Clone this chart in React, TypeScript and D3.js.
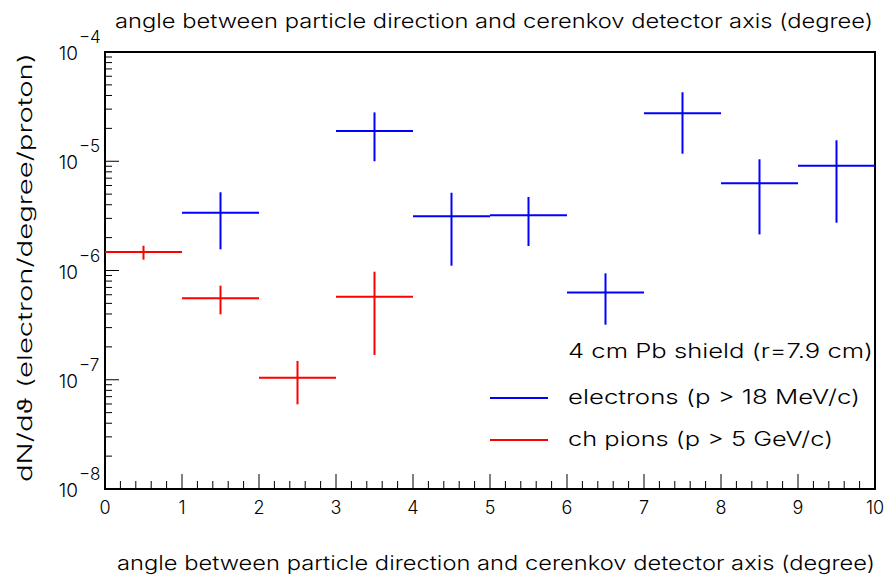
import React from "react";
import * as d3 from "d3";

const W = 890;
const H = 579;

const titleText = "angle between particle direction and cerenkov detector axis (degree)";
const yLabelText = "dN/dϑ (electron/degree/proton)";
const legendHeader = "4 cm Pb shield (r=7.9 cm)";
const seriesNames = ["electrons (p > 18 MeV/c)", "ch pions (p > 5 GeV/c)"];
const seriesColors = ["#0000ff", "#ff0000"];

const xTicks = [0, 1, 2, 3, 4, 5, 6, 7, 8, 9, 10];
const yDecades = [-4, -5, -6, -7, -8];

// electrons
const elecCenters = [1.5, 3.5, 4.5, 5.5, 6.5, 7.5, 8.5, 9.5];
const elecValues = [3.38e-6, 1.89e-5, 3.13e-6, 3.2e-6, 6.3e-7, 2.75e-5, 6.28e-6, 9.1e-6];
const elecHigh = [5.2e-6, 2.8e-5, 5.15e-6, 4.71e-6, 9.42e-7, 4.28e-5, 1.042e-5, 1.556e-5];
const elecLow = [1.563e-6, 1.0e-5, 1.107e-6, 1.675e-6, 3.19e-7, 1.173e-5, 2.14e-6, 2.74e-6];

// charged pions
const pionCenters = [0.5, 1.5, 2.5, 3.5];
const pionValues = [1.476e-6, 5.56e-7, 1.044e-7, 5.75e-7];
const pionHigh = [1.686e-6, 7.26e-7, 1.486e-7, 9.75e-7];
const pionLow = [1.256e-6, 3.97e-7, 5.96e-8, 1.686e-7];

const binHalf = 0.5;

const FONT = "Inter, 'Open Sans', 'DejaVu Sans', sans-serif";
const FW = 300;

export default function App() {
  const left = 105, right = 875, top = 52, bottom = 489;
  const x = d3.scaleLinear().domain([0, 10]).range([left, right]);
  const y = d3.scaleLog().domain([1e-8, 1e-4]).range([bottom, top]);

  const minorX = d3.range(0, 10.001, 0.2).filter((v) => Math.abs(v - Math.round(v)) > 1e-6);
  const minorY: number[] = [];
  for (let e = -8; e < -4; e++) {
    for (let m = 2; m <= 9; m++) minorY.push(m * Math.pow(10, e));
  }

  const series = [
    { c: elecCenters, v: elecValues, hi: elecHigh, lo: elecLow, color: seriesColors[0] },
    { c: pionCenters, v: pionValues, hi: pionHigh, lo: pionLow, color: seriesColors[1] },
  ];

  return (
    <svg width={W} height={H} style={{ position: "absolute", left: 0, top: 0, background: "#fff" }}
      fontFamily={FONT} fontWeight={FW}>
      <rect x={0} y={0} width={W} height={H} fill="#fff" />
      {/* titles */}
      <text x={115} y={28} fontSize={20} textLength={758} lengthAdjust="spacingAndGlyphs" fill="#000">{titleText}</text>
      <text x={117} y={570} fontSize={20} textLength={758} lengthAdjust="spacingAndGlyphs" fill="#000">{titleText}</text>
      {/* y label */}
      <text transform={`translate(32,${482}) rotate(-90)`} fontSize={20} textLength={429} lengthAdjust="spacingAndGlyphs" fill="#000">{yLabelText}</text>

      {/* x ticks */}
      {xTicks.map((t) => (
        <g key={"xt" + t}>
          <line x1={x(t)} x2={x(t)} y1={bottom} y2={bottom - 15} stroke="#000" strokeWidth={1} />
          <text x={x(t)} y={514} fontSize={18} textAnchor="middle" fill="#000">{t}</text>
        </g>
      ))}
      {minorX.map((t, i) => (
        <line key={"xm" + i} x1={x(t)} x2={x(t)} y1={bottom} y2={bottom - 8} stroke="#000" strokeWidth={1} />
      ))}

      {/* y ticks */}
      {yDecades.map((e) => (
        <g key={"yt" + e}>
          <line x1={left} x2={left + 14} y1={y(Math.pow(10, e))} y2={y(Math.pow(10, e))} stroke="#000" strokeWidth={1} />
          <text x={78} y={y(Math.pow(10, e)) + 8} fontSize={19} textAnchor="end" fill="#000">10</text>
          <text x={79} y={y(Math.pow(10, e)) - 9} fontSize={17} fill="#000">{"−" + String(-e)}</text>
        </g>
      ))}
      {minorY.map((v, i) => (
        <line key={"ym" + i} x1={left} x2={left + 7} y1={y(v)} y2={y(v)} stroke="#000" strokeWidth={1} />
      ))}

      {/* frame */}
      <rect x={left} y={top} width={right - left} height={bottom - top} fill="none" stroke="#000" strokeWidth={2} />

      {/* data */}
      {series.map((s, si) => (
        <g key={"s" + si} stroke={s.color} strokeWidth={2}>
          {s.c.map((c, i) => (
            <g key={i}>
              <line x1={x(c - binHalf)} x2={x(c + binHalf)} y1={y(s.v[i])} y2={y(s.v[i])} />
              <line x1={x(c)} x2={x(c)} y1={y(s.hi[i])} y2={y(s.lo[i])} />
            </g>
          ))}
        </g>
      ))}

      {/* legend */}
      <text x={568} y={358} fontSize={20} textLength={305} lengthAdjust="spacingAndGlyphs" fill="#000">{legendHeader}</text>
      {seriesNames.map((n, i) => (
        <g key={"lg" + i}>
          <line x1={490} x2={548} y1={398 + i * 42} y2={398 + i * 42} stroke={seriesColors[i]} strokeWidth={2} />
          <text x={568} y={404 + i * 42} fontSize={20} textLength={i === 0 ? 292 : 265} lengthAdjust="spacingAndGlyphs" fill="#000">{n}</text>
        </g>
      ))}
    </svg>
  );
}
